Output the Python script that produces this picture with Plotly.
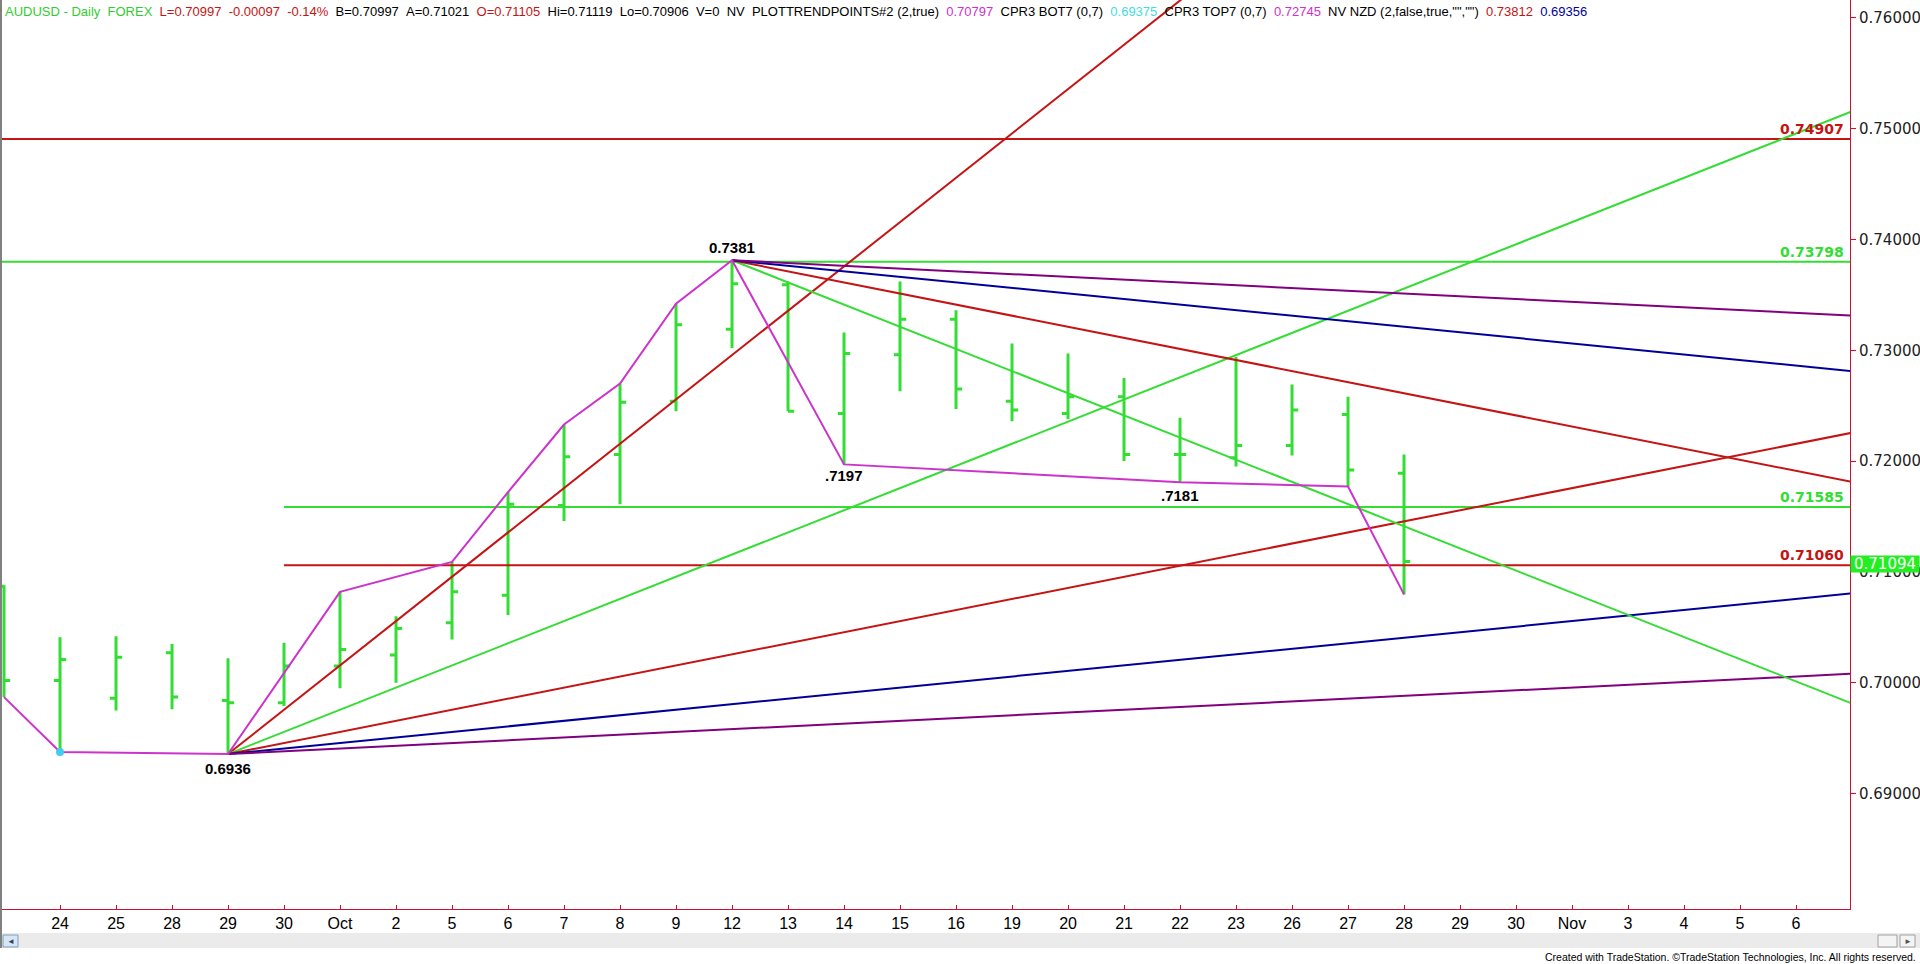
import plotly.graph_objects as go

# ---------------- data ----------------
tick_labels = ["24", "25", "28", "29", "30", "Oct", "2", "5", "6", "7", "8", "9", "12", "13", "14", "15",
               "16", "19", "20", "21", "22", "23", "26", "27", "28", "29", "30", "Nov", "3", "4", "5", "6"]

bar_idx = list(range(-1, 25))  # Sep 23 (partly visible) .. Oct 28
bar_open = [0.7087, 0.7002, 0.6986, 0.7027, 0.6984, 0.6982, 0.7015, 0.7025, 0.7054, 0.7079, 0.7160, 0.7206, 0.7254,
            0.7319, 0.7359, 0.7243, 0.7296, 0.7328, 0.7254, 0.7243, 0.7258, 0.7206, 0.7203, 0.7214, 0.7242, 0.7189]
bar_high = [0.7088, 0.7041, 0.7042, 0.7035, 0.7022, 0.7036, 0.7082, 0.7060, 0.7109, 0.7172, 0.7233, 0.7270, 0.7342,
            0.73812, 0.7362, 0.7316, 0.7362, 0.7336, 0.7306, 0.7297, 0.7275, 0.7239, 0.7294, 0.7269, 0.7258, 0.7206]
bar_low = [0.6987, 0.69375, 0.6975, 0.6976, 0.69356, 0.6979, 0.6995, 0.7000, 0.7039, 0.7061, 0.7146, 0.7161, 0.7245,
           0.7302, 0.7245, 0.7197, 0.7263, 0.7247, 0.7236, 0.7238, 0.7200, 0.7181, 0.7195, 0.7205, 0.7177, 0.70797]
bar_close = [0.7002, 0.7021, 0.7023, 0.6987, 0.6982, 0.7015, 0.7030, 0.7049, 0.7082, 0.7161, 0.7204, 0.7253, 0.7323,
             0.7360, 0.7245, 0.7297, 0.7328, 0.7265, 0.7246, 0.7258, 0.7206, 0.7206, 0.7214, 0.7246, 0.7192, 0.71094]

# swing pivots (index, 'H' or 'L')
zig_idx = [-1, 0, 3, 5, 7, 8, 9, 10, 11, 12, 14, 20, 23, 24]
zig_kind = ["L", "L", "L", "H", "H", "H", "H", "H", "H", "H", "L", "L", "L", "L"]

# Gann fans
fan_low = (3, 0.69356)
fan_up_slopes = [0.004, 0.002, 0.001, 0.0005, 0.00025]
fan_high = (12, 0.73812)
fan_dn_slopes = [-0.002, -0.001, -0.0005, -0.00025]

# horizontal levels
levels = [0.74907, 0.73798, 0.71585, 0.71060]
level_start = [None, None, 4, 4]

last_price = 0.71094
y_ticks = [0.69, 0.70, 0.71, 0.72, 0.73, 0.74, 0.75, 0.76]

# ---------------- styles ----------------
GREEN = "#33dd33"
RED = "#c41414"
BLUE = "#000099"
PURPLE = "#800080"
MAGENTA = "#cc33cc"
AXRED = "#cc1133"

X0, X1 = -1.036, 31.964
Y0, Y1 = 0.679581, 0.761606
PL, PR, PT, PB = 2, 1850, 0, 909


def px_x(x):
    return (x - PL) / (PR - PL)


def px_y(y):
    return 1 - (y - PT) / (PB - PT)


fig = go.Figure()

fig.add_trace(go.Ohlc(
    x=bar_idx, open=bar_open, high=bar_high, low=bar_low, close=bar_close,
    increasing=dict(line=dict(color=GREEN, width=3)),
    decreasing=dict(line=dict(color=GREEN, width=3)),
    tickwidth=0.11, hoverinfo="skip", showlegend=False))

lvl_colors = [RED, GREEN, GREEN, RED]
for lv, st, c in zip(levels, level_start, lvl_colors):
    xs = X0 - 1 if st is None else st
    fig.add_trace(go.Scatter(x=[xs, X1 + 1], y=[lv, lv], mode="lines",
                             line=dict(color=c, width=2), hoverinfo="skip", showlegend=False))

up_colors = [RED, GREEN, RED, BLUE, PURPLE]
for s, c in zip(fan_up_slopes, up_colors):
    x_end = 32.5
    fig.add_trace(go.Scatter(x=[fan_low[0], x_end], y=[fan_low[1], fan_low[1] + s * (x_end - fan_low[0])],
                             mode="lines", line=dict(color=c, width=2), hoverinfo="skip", showlegend=False))

dn_colors = [GREEN, RED, BLUE, PURPLE]
for s, c in zip(fan_dn_slopes, dn_colors):
    x_end = 32.5
    fig.add_trace(go.Scatter(x=[fan_high[0], x_end], y=[fan_high[1], fan_high[1] + s * (x_end - fan_high[0])],
                             mode="lines", line=dict(color=c, width=2), hoverinfo="skip", showlegend=False))

zx, zy = [], []
for i, k in zip(zig_idx, zig_kind):
    j = bar_idx.index(i)
    zx.append(i)
    zy.append(bar_high[j] if k == "H" else bar_low[j])
fig.add_trace(go.Scatter(x=zx, y=zy, mode="lines", line=dict(color=MAGENTA, width=2),
                         hoverinfo="skip", showlegend=False))

fig.add_trace(go.Scatter(x=[0], y=[bar_low[bar_idx.index(0)]], mode="markers",
                         marker=dict(color="#44ccee", size=8), hoverinfo="skip", showlegend=False))

ann = []
# header
sp = "\u00a0\u00a0"
hdr = (f"<span style='color:#33cc33'>AUDUSD - Daily{sp}FOREX</span>{sp}"
       f"<span style='color:#c41414'>L=0.70997{sp}-0.00097{sp}-0.14%</span>{sp}"
       f"B=0.70997{sp}A=0.71021{sp}<span style='color:#c41414'>O=0.71105</span>{sp}"
       f"Hi=0.71119{sp}Lo=0.70906{sp}V=0{sp}NV{sp}PLOTTRENDPOINTS#2 (2,true){sp}"
       f"<span style='color:#cc33cc'>0.70797</span>{sp}CPR3 BOT7 (0,7){sp}"
       f"<span style='color:#44dddd'>0.69375</span>{sp}CPR3 TOP7 (0,7){sp}"
       f"<span style='color:#cc33cc'>0.72745</span>{sp}NV NZD (2,false,true,\"\",\"\"){sp}"
       f"<span style='color:#c41414'>0.73812</span>{sp}<span style='color:#000099'>0.69356</span>")
ann.append(dict(xref="paper", yref="paper", x=0, y=1, xanchor="left", yanchor="top", xshift=1, yshift=-2,
                text=hdr, showarrow=False, font=dict(family="Liberation Sans, Arial", size=13, color="#000")))

lbl_x = px_x(1846)
for lv, c in zip(levels, lvl_colors):
    ann.append(dict(xref="paper", yref="y", x=lbl_x, y=lv, xanchor="right", yanchor="bottom", yshift=0,
                    text=f"<b>{lv:.5f}</b>", showarrow=False,
                    font=dict(family="DejaVu Sans", size=14, color=c)))

pf = dict(family="Liberation Sans, Arial", size=15, color="#000")
ann.append(dict(x=3, y=0.69356, xanchor="center", yanchor="top", yshift=-4, text="<b>0.6936</b>",
                showarrow=False, font=pf))
ann.append(dict(x=12, y=0.73812, xanchor="center", yanchor="bottom", yshift=2, text="<b>0.7381</b>",
                showarrow=False, font=pf))
ann.append(dict(x=14, y=0.7197, xanchor="center", yanchor="top", yshift=-1, text="<b>.7197</b>",
                showarrow=False, font=pf))
ann.append(dict(x=20, y=0.7181, xanchor="center", yanchor="top", yshift=-3, text="<b>.7181</b>",
                showarrow=False, font=pf))

# last price box
ann.append(dict(xref="paper", yref="y", x=1, y=last_price, xanchor="left", yanchor="middle", yshift=-3,
                text=f"{last_price:.5f}", showarrow=False, bgcolor="#22ee22", width=68, height=16,
                borderpad=0, font=dict(family="DejaVu Sans", size=15, color="#ffffff")))

# footer
ann.append(dict(xref="paper", yref="paper", x=px_x(1918), y=px_y(957), xanchor="right", yanchor="middle",
                text="Created with TradeStation. \u00a9TradeStation Technologies, Inc. All rights reserved.",
                showarrow=False, font=dict(family="Liberation Sans Narrow, Arial Narrow, Liberation Sans", size=10.5,
                                           color="#000")))
ann.append(dict(xref="paper", yref="paper", x=px_x(10.5), y=px_y(941), xanchor="center", yanchor="middle",
                text="\u25c4", showarrow=False, font=dict(size=8, color="#334466")))
ann.append(dict(xref="paper", yref="paper", x=px_x(1907.5), y=px_y(941), xanchor="center", yanchor="middle",
                text="\u25ba", showarrow=False, font=dict(size=8, color="#555555")))

shapes = [
    dict(type="rect", xref="paper", yref="paper", x0=px_x(0), x1=px_x(1920), y0=px_y(933), y1=px_y(948),
         fillcolor="#ebebeb", line=dict(width=0), layer="below"),
    dict(type="rect", xref="paper", yref="paper", x0=px_x(3), x1=px_x(18), y0=px_y(935), y1=px_y(947),
         fillcolor="#d6e6f5", line=dict(width=1, color="#7f9db9")),
    dict(type="rect", xref="paper", yref="paper", x0=px_x(1878), x1=px_x(1897), y0=px_y(935), y1=px_y(947),
         fillcolor="#f4f4f4", line=dict(width=1, color="#a0a0a0")),
    dict(type="rect", xref="paper", yref="paper", x0=px_x(1900), x1=px_x(1915), y0=px_y(935), y1=px_y(947),
         fillcolor="#f4f4f4", line=dict(width=1, color="#a0a0a0")),
    dict(type="line", xref="paper", yref="paper", x0=px_x(1), x1=px_x(1), y0=px_y(0), y1=px_y(948),
         line=dict(color="#808080", width=2)),
]

fig.update_layout(
    width=1920, height=964,
    margin=dict(l=PL, r=1920 - PR, t=PT, b=964 - PB, pad=0),
    paper_bgcolor="white", plot_bgcolor="white",
    showlegend=False,
    annotations=ann, shapes=shapes,
    xaxis=dict(range=[X0, X1], rangeslider=dict(visible=False), tickmode="array",
               tickvals=list(range(len(tick_labels))), ticktext=tick_labels,
               showgrid=False, zeroline=False, showline=True, linecolor=AXRED, linewidth=1,
               ticks="inside", ticklen=4, tickcolor=AXRED,
               tickfont=dict(family="Liberation Sans, Arial", size=16, color="#000")),
    yaxis=dict(range=[Y0, Y1], side="right", tickmode="array", tickvals=y_ticks,
               ticktext=[f"{v:.5f}" for v in y_ticks],
               showgrid=False, zeroline=False, showline=True, linecolor=AXRED, linewidth=1,
               ticks="outside", ticklen=5, tickcolor=AXRED,
               tickfont=dict(family="DejaVu Sans", size=15, color="#222")),
)

fig.write_html("out.html", config={"displayModeBar": False},
               post_script="document.body.style.margin='0';document.body.style.overflow='hidden';")
